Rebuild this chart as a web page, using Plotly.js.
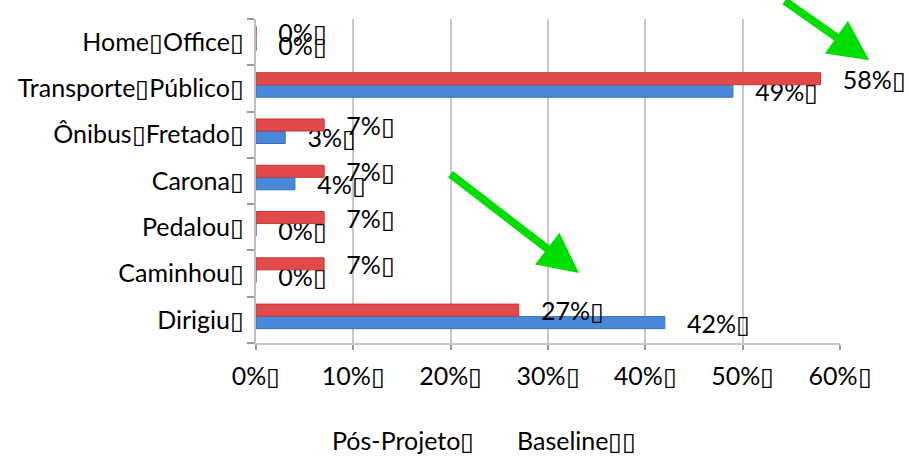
<!DOCTYPE html>
<html>
<head>
<meta charset="utf-8">
<script src="https://cdn.plot.ly/plotly-3.0.1.min.js"></script>
<style>html,body{margin:0;padding:0;background:#fff;}#chart{width:908px;height:457px;}</style>
</head>
<body>
<div id="chart"></div>
<script>
// Categories listed bottom to top
const categories = ['Dirigiu\u25AF', 'Caminhou\u25AF', 'Pedalou\u25AF', 'Carona\u25AF', '\u00D4nibus\u25AFFretado\u25AF', 'Transporte\u25AFP\u00FAblico\u25AF', 'Home\u25AFOffice\u25AF'];
const baseline = [0.42, 0.00, 0.00, 0.04, 0.03, 0.49, 0.00];
const posProjeto = [0.27, 0.07, 0.07, 0.07, 0.07, 0.58, 0.00];
const seriesNames = ['P\u00F3s-Projeto\u25AF', 'Baseline\u25AF\u25AF'];
const xTickVals = [0, 0.1, 0.2, 0.3, 0.4, 0.5, 0.6];
const xTickLabels = ['0%\u25AF', '10%\u25AF', '20%\u25AF', '30%\u25AF', '40%\u25AF', '50%\u25AF', '60%\u25AF'];

const FONT = 'Lato, "Open Sans", sans-serif';
const FS = 25;
const pad = '\u00A0\u00A0\u00A0';

const traces = [
  {
    type: 'bar', orientation: 'h', name: seriesNames[1],
    y: categories, x: baseline, offset: -0.19, width: 0.26,
    marker: {color: '#4a88da', line: {color: '#3a6fb8', width: 1}},
    texttemplate: pad + '%{x:.0%}\u25AF', textposition: 'outside',
    textfont: {family: FONT, size: FS, color: '#000'},
    cliponaxis: false, constraintext: 'none', showlegend: false
  },
  {
    type: 'bar', orientation: 'h', name: seriesNames[0],
    y: categories, x: posProjeto, offset: 0.08, width: 0.26,
    marker: {color: '#e24a4a', line: {color: '#c03a3a', width: 1}},
    texttemplate: pad + '%{x:.0%}\u25AF', textposition: 'outside',
    textfont: {family: FONT, size: FS, color: '#000'},
    cliponaxis: false, constraintext: 'none', showlegend: false
  }
];

const layout = {
  width: 908, height: 457,
  margin: {l: 256, r: 68, t: 19, b: 114},
  paper_bgcolor: '#fff', plot_bgcolor: '#fff',
  barmode: 'overlay',
  showlegend: false,
  font: {family: FONT, size: FS, color: '#000'},
  xaxis: {
    range: [0, 0.6], tickvals: xTickVals, ticktext: xTickLabels,
    showgrid: true, gridcolor: '#c8c8c8', gridwidth: 2,
    showline: true, linecolor: '#c8c8c8', linewidth: 2,
    ticks: 'outside', ticklen: 5, tickcolor: '#999', tickwidth: 2,
    ticklabelstandoff: 5,
    zeroline: false, fixedrange: true,
    tickfont: {family: FONT, size: FS, color: '#000'}
  },
  yaxis: {
    type: 'category', tickson: 'boundaries',
    showgrid: false, zeroline: false,
    showline: true, linecolor: '#c0c0c0', linewidth: 2,
    ticks: 'outside', ticklen: 7, tickcolor: '#999', tickwidth: 2,
    ticklabelstandoff: 5,
    tickfont: {family: FONT, size: FS, color: '#000'}, fixedrange: true
  },
  annotations: [
    {xref: 'paper', yref: 'paper', x: 0.127, y: -0.30, xanchor: 'left', yanchor: 'middle',
     text: seriesNames[0], showarrow: false, font: {family: FONT, size: FS, color: '#000'}},
    {xref: 'paper', yref: 'paper', x: 0.443, y: -0.30, xanchor: 'left', yanchor: 'middle',
     text: seriesNames[1], showarrow: false, font: {family: FONT, size: FS, color: '#000'}},
    {xref: 'paper', yref: 'paper', x: 1.05, y: 0.873, text: '', showarrow: true,
     ax: -86, ay: -70, arrowhead: 2, arrowsize: 1.0, arrowwidth: 8, arrowcolor: '#00dd00', standoff: 0},
    {xref: 'paper', yref: 'paper', x: 0.553, y: 0.216, text: '', showarrow: true,
     ax: -130, ay: -100, arrowhead: 2, arrowsize: 1.0, arrowwidth: 8, arrowcolor: '#00dd00', standoff: 0}
  ]
};

Plotly.newPlot('chart', traces, layout, {staticPlot: true, displayModeBar: false});
</script>
</body>
</html>
